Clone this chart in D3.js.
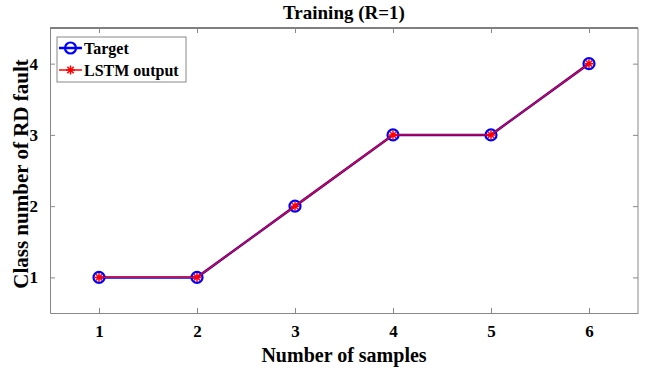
<!DOCTYPE html>
<html lang="en">
<head>
  <meta charset="UTF-8">
  <title>Training (R=1)</title>
  <style>
    body { margin: 0; background: #fff; }
    text { font-family: "Liberation Serif", "Times New Roman", serif; font-weight: bold; }
  </style>
  <script src="https://d3js.org/d3.v7.min.js"></script>
</head>
<body>
  <div id="chart"></div>
  <script>
    // Data
    const samples = [1, 2, 3, 4, 5, 6];
    const target = [1, 1, 2, 3, 3, 4];
    const lstmOutput = [1, 1, 2, 3, 3, 4];
    const xTicks = [1, 2, 3, 4, 5, 6];
    const yTicks = [1, 2, 3, 4];

    const width = 646;
    const height = 372;
    const margin = { top: 28, right: 8, bottom: 59, left: 50 };
    const innerW = width - margin.left - margin.right;
    const innerH = height - margin.top - margin.bottom;

    const svg = d3.select('#chart')
      .append('svg')
      .attr('width', width)
      .attr('height', height);

    const x = d3.scaleLinear().domain([0.5, 6.5]).range([0, innerW]);
    const y = d3.scaleLinear().domain([0.5, 4.5]).range([innerH, 0]);

    const g = svg.append('g')
      .attr('transform', `translate(${margin.left},${margin.top})`);

    // Box with inward ticks
    const tickLen = 5;
    g.append('line').attr('x1', 0).attr('x2', innerW).attr('y1', 0).attr('y2', 0)
      .attr('stroke', '#000').attr('stroke-width', 1);
    g.append('line').attr('x1', innerW).attr('x2', innerW).attr('y1', 0).attr('y2', innerH)
      .attr('stroke', '#888').attr('stroke-width', 1);

    const xAxis = g.append('g')
      .attr('transform', `translate(0,${innerH})`)
      .call(d3.axisBottom(x).tickValues(xTicks).tickFormat(d3.format('d'))
        .tickSizeInner(-tickLen).tickSizeOuter(0).tickPadding(12));
    const yAxis = g.append('g')
      .call(d3.axisLeft(y).tickValues(yTicks).tickFormat(d3.format('d'))
        .tickSizeInner(-tickLen).tickSizeOuter(0).tickPadding(12));

    [xAxis, yAxis].forEach(a => {
      a.select('.domain').attr('stroke', '#888');
      a.selectAll('.tick line').attr('stroke', '#888');
      a.selectAll('.tick text')
        .attr('fill', '#000')
        .style('font-size', '17px')
        .style('font-family', '"Liberation Serif", serif')
        .style('font-weight', 'bold');
    });

    // top and right ticks
    g.append('g').call(d3.axisTop(x).tickValues(xTicks).tickSizeInner(-tickLen).tickSizeOuter(0).tickFormat(''))
      .call(a => { a.select('.domain').remove(); a.selectAll('line').attr('stroke', '#888'); });
    g.append('g').attr('transform', `translate(${innerW},0)`)
      .call(d3.axisRight(y).tickValues(yTicks).tickSizeInner(-tickLen).tickSizeOuter(0).tickFormat(''))
      .call(a => { a.select('.domain').remove(); a.selectAll('line').attr('stroke', '#888'); });

    const line = d3.line().x((d, i) => x(samples[i])).y(d => y(d));

    // Target series
    g.append('path').datum(target)
      .attr('d', line).attr('fill', 'none')
      .attr('stroke', '#0000ff').attr('stroke-width', 2.5);
    g.selectAll('.tgt').data(target).enter().append('circle')
      .attr('cx', (d, i) => x(samples[i])).attr('cy', d => y(d))
      .attr('r', 5.5).attr('fill', 'none')
      .attr('stroke', '#0000ff').attr('stroke-width', 2.2);

    // LSTM output series
    g.append('path').datum(lstmOutput)
      .attr('d', line).attr('fill', 'none')
      .attr('stroke', '#ff0000').attr('stroke-width', 1.3);

    const star = (cx, cy, s) => {
      let p = '';
      [0, 45, 90, 135].forEach(a => {
        const r = a * Math.PI / 180;
        const dx = Math.cos(r) * s, dy = Math.sin(r) * s;
        p += `M${cx - dx},${cy - dy}L${cx + dx},${cy + dy}`;
      });
      return p;
    };
    g.selectAll('.out').data(lstmOutput).enter().append('path')
      .attr('d', (d, i) => star(x(samples[i]), y(d), 4.5))
      .attr('stroke', '#ff0000').attr('stroke-width', 1.5).attr('fill', 'none');

    // Legend
    const lg = g.append('g').attr('transform', 'translate(7,9)');
    lg.append('rect').attr('width', 129).attr('height', 45)
      .attr('fill', '#fff').attr('stroke', '#888').attr('stroke-width', 1);
    const legendItems = [
      { name: 'Target', color: '#0000ff', w: 2.5 },
      { name: 'LSTM output', color: '#ff0000', w: 1.5 }
    ];
    legendItems.forEach((d, i) => {
      const yy = 11 + i * 22;
      lg.append('line').attr('x1', 2).attr('x2', 25).attr('y1', yy).attr('y2', yy)
        .attr('stroke', d.color).attr('stroke-width', d.w);
      if (i === 0) {
        lg.append('circle').attr('cx', 13.5).attr('cy', yy).attr('r', 5.5)
          .attr('fill', 'none').attr('stroke', d.color).attr('stroke-width', 2.2);
      } else {
        lg.append('path').attr('d', star(13.5, yy, 4.5))
          .attr('stroke', d.color).attr('stroke-width', 1.5);
      }
      lg.append('text').attr('x', 27).attr('y', yy + 5.5)
        .style('font-size', '16px').text(d.name);
    });

    // Title and labels
    svg.append('text').attr('x', 344).attr('y', 19)
      .attr('text-anchor', 'middle').style('font-size', '19px').text('Training (R=1)');
    svg.append('text').attr('x', margin.left + innerW / 2).attr('y', 362)
      .attr('text-anchor', 'middle').style('font-size', '20px').text('Number of samples');
    svg.append('text')
      .attr('transform', 'translate(28,174) rotate(-90)')
      .attr('text-anchor', 'middle').style('font-size', '21px').text('Class number of RD fault');
  </script>
</body>
</html>
